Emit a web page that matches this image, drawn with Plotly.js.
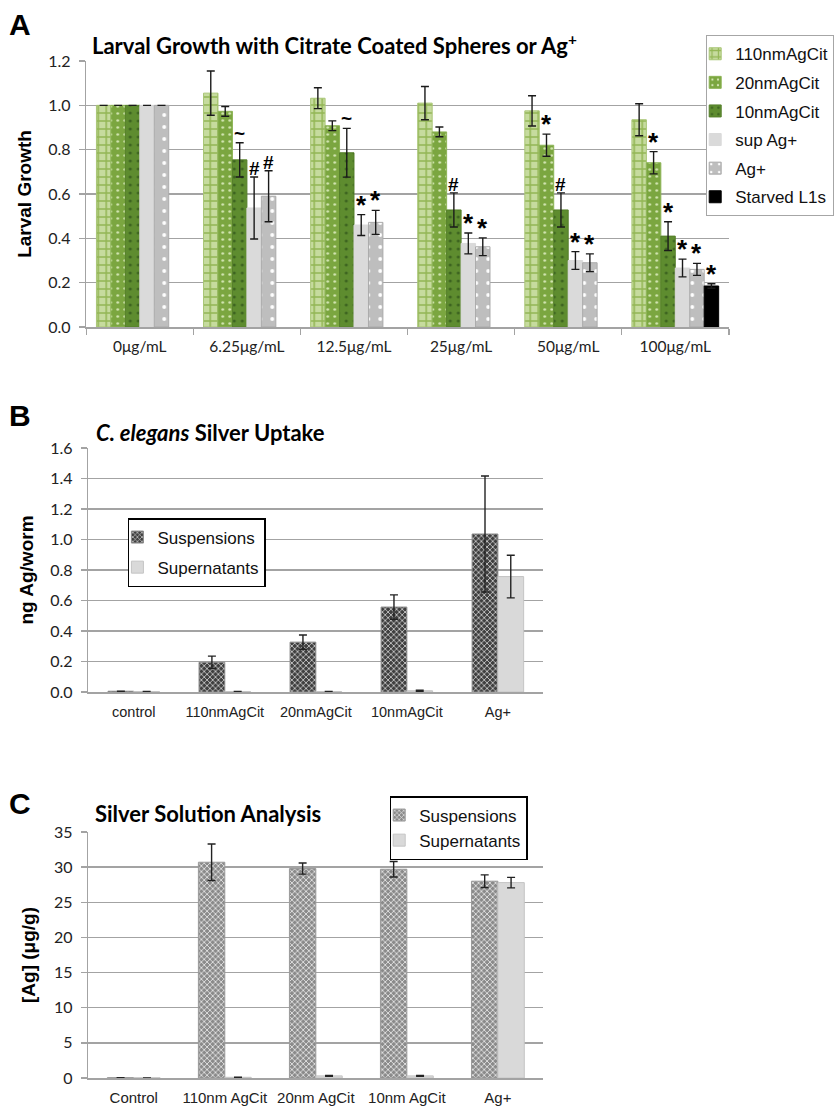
<!DOCTYPE html>
<html>
<head>
<meta charset="utf-8">
<script src="https://cdn.plot.ly/plotly-3.0.1.min.js"></script>
<style>
html,body{margin:0;padding:0;background:#fff;}
#chart{width:834px;height:1106px;}
</style>
</head>
<body>
<div id="chart"></div>
<script>
// ---------- Panel A data ----------
const catsA = ['0μg/mL','6.25μg/mL','12.5μg/mL','25μg/mL','50μg/mL','100μg/mL'];
const seriesA = ['110nmAgCit','20nmAgCit','10nmAgCit','sup Ag+','Ag+','Starved L1s'];
const nm110    = [1.0, 1.055, 1.032, 1.01, 0.975, 0.935];
const nm110Err = [0, 0.10, 0.047, 0.075, 0.068, 0.072];
const nm20     = [1.0, 0.973, 0.908, 0.88, 0.82, 0.741];
const nm20Err  = [0, 0.022, 0.022, 0.022, 0.05, 0.05];
const nm10     = [1.0, 0.754, 0.786, 0.528, 0.528, 0.41];
const nm10Err  = [0, 0.077, 0.11, 0.077, 0.077, 0.065];
const supAg    = [1.0, 0.537, 0.46, 0.377, 0.30, 0.266];
const supAgErr = [0, 0.14, 0.047, 0.047, 0.04, 0.04];
const agIon    = [1.0, 0.59, 0.472, 0.362, 0.29, 0.26];
const agIonErr = [0, 0.115, 0.054, 0.04, 0.04, 0.027];
const starved    = [null, null, null, null, null, 0.185];
const starvedErr = [0, 0, 0, 0, 0, 0.01];
// significance marks per series
const sig110     = ['', '', '', '', '', ''];
const sig20      = ['', '', '', '', '*', '*'];
const sig10      = ['', '~', '~', '#', '#', '*'];
const sigSup     = ['', '#', '*', '*', '*', '*'];
const sigAg      = ['', '#', '*', '*', '*', '*'];
const sigStarved = ['', '', '', '', '', '*'];

// ---------- Panel B data ----------
const catsB = ['control','110nmAgCit','20nmAgCit','10nmAgCit','Ag+'];
const suspB    = [0.005, 0.195, 0.327, 0.557, 1.036];
const suspBErr = [0, 0.04, 0.047, 0.08, 0.38];
const supB     = [0.003, 0.003, 0.003, 0.008, 0.757];
const supBErr  = [0, 0, 0, 0.003, 0.14];

// ---------- Panel C data ----------
const catsC = ['Control','110nm AgCit','20nm AgCit','10nm AgCit','Ag+'];
const suspC    = [0.05, 30.7, 29.8, 29.7, 28.0];
const suspCErr = [0, 2.6, 0.8, 1.1, 0.9];
const supC     = [0.02, 0.1, 0.3, 0.3, 27.8];
const supCErr  = [0, 0, 0.05, 0.05, 0.75];

// ---------- styling ----------
const W = 834, H = 1106;
const px = v => v / W;
const py = v => 1 - v / H;
const GRID = '#A3A3A3';
const calib = 'Lato, "Open Sans", sans-serif';
const arial = 'Arial, "Liberation Sans", sans-serif';

const wA = 0.135;
const stylesA = [
  {pattern:{shape:'+', bgcolor:'#C6DB9E', fgcolor:'#93B655', size:8, solidity:0.35, fillmode:'replace'}, line:'#A9C676'},
  {pattern:{shape:'.', bgcolor:'#7BA640', fgcolor:'#D4E6B4', size:7, solidity:0.12, fillmode:'replace'}, line:'#8DB456'},
  {pattern:{shape:'.', bgcolor:'#5E8C2F', fgcolor:'#3D6420', size:8, solidity:0.12, fillmode:'replace'}, line:'#557F2A'},
  {color:'#DADADA', line:'#DADADA'},
  {pattern:{shape:'.', bgcolor:'#BEBEBE', fgcolor:'#FFFFFF', size:12, solidity:0.08, fillmode:'replace'}, line:'#ABABAB'},
  {color:'#000000', line:'#000000'}
];
const valsA = [nm110, nm20, nm10, supAg, agIon, starved];
const errsA = [nm110Err, nm20Err, nm10Err, supAgErr, agIonErr, starvedErr];
const sigsA = [sig110, sig20, sig10, sigSup, sigAg, sigStarved];

const traces = [];
seriesA.forEach((name, i) => {
  const st = stylesA[i];
  const marker = {line:{color:st.line, width:1}};
  if (st.pattern) { marker.color = st.pattern.bgcolor; marker.pattern = st.pattern; }
  else marker.color = st.color;
  traces.push({
    type:'bar', name:name, x:catsA, y:valsA[i], xaxis:'x', yaxis:'y',
    offset:-3*wA + i*wA, width:wA, marker:marker,
    error_y:{type:'data', array:errsA[i], visible:true, color:'#1a1a1a', thickness:1.4, width:4},
    legend:'legend', legendgroup:'a'+i, hoverinfo:'skip'
  });
});

const wB = 0.283;
const suspStyleB = {color:'#4a4a4a', pattern:{shape:'x', bgcolor:'#3f3f3f', fgcolor:'#dcdcdc', size:4, solidity:0.35, fillmode:'replace'}, line:{color:'#8a8a8a', width:1}};
const supStyle = {color:'#D9D9D9', line:{color:'#C4C4C4', width:1}};
traces.push({type:'bar', name:'Suspensions', x:catsB, y:suspB, xaxis:'x2', yaxis:'y2', offset:-wB, width:wB,
  marker:suspStyleB, error_y:{type:'data', array:suspBErr, visible:true, color:'#222', thickness:1.4, width:4},
  legend:'legend2', legendgroup:'b0', hoverinfo:'skip'});
traces.push({type:'bar', name:'Supernatants', x:catsB, y:supB, xaxis:'x2', yaxis:'y2', offset:0, width:wB,
  marker:supStyle, error_y:{type:'data', array:supBErr, visible:true, color:'#222', thickness:1.4, width:4},
  legend:'legend2', legendgroup:'b1', hoverinfo:'skip'});

const wC = 0.29;
const suspStyleC = {color:'#9a9a9a', pattern:{shape:'x', bgcolor:'#8a8a8a', fgcolor:'#f0f0f0', size:4, solidity:0.35, fillmode:'replace'}, line:{color:'#9a9a9a', width:1}};
traces.push({type:'bar', name:'Suspensions', x:catsC, y:suspC, xaxis:'x3', yaxis:'y3', offset:-wC, width:wC,
  marker:suspStyleC, error_y:{type:'data', array:suspCErr, visible:true, color:'#222', thickness:1.4, width:4},
  legend:'legend3', legendgroup:'c0', hoverinfo:'skip'});
traces.push({type:'bar', name:'Supernatants', x:catsC, y:supC, xaxis:'x3', yaxis:'y3', offset:0, width:wC,
  marker:supStyle, error_y:{type:'data', array:supCErr, visible:true, color:'#222', thickness:1.4, width:4},
  legend:'legend3', legendgroup:'c1', hoverinfo:'skip'});

// ---------- annotations ----------
const annotations = [];
const lab = (t, x, y) => annotations.push({text:'<b>'+t+'</b>', x:px(x), y:py(y), xref:'paper', yref:'paper',
  xanchor:'left', yanchor:'middle', showarrow:false, font:{family:arial, size:30, color:'#000'}});
lab('A', 7, 25); lab('B', 7, 415); lab('C', 7, 803);
const ttl = (t, x, y) => annotations.push({text:'<b>'+t+'</b>', x:px(x), y:py(y), xref:'paper', yref:'paper',
  xanchor:'left', yanchor:'middle', showarrow:false, font:{family:calib, size:22, color:'#000'}});
ttl('Larval Growth with Citrate Coated Spheres or Ag<sup>+</sup>', 91, 44);
ttl('<i>C. elegans</i> Silver Uptake', 95, 432);
ttl('Silver Solution Analysis', 94, 813);

sigsA.forEach((arr, i) => {
  arr.forEach((m, g) => {
    if (!m) return;
    const top = valsA[i][g] + errsA[i][g];
    const isStar = m === '*';
    annotations.push({text:'<b>'+m+'</b>', x:g - 3*wA + i*wA + wA/2, y:top, xref:'x', yref:'y',
      xanchor:'center', yanchor:'bottom', showarrow:false, yshift: isStar ? -7 : (m === '~' ? -3 : -4),
      font:{family:arial, size: isStar ? 26 : 19, color:'#000'}});
  });
});

const axisLine = {showline:true, linecolor:GRID, linewidth:1.5, zeroline:false};
const yCommon = Object.assign({}, axisLine, {showgrid:true, gridcolor:GRID, gridwidth:1.5, ticks:'outside',
  ticklen:6, tickcolor:GRID, tickwidth:1.5, tickfont:{family:calib, size:16, color:'#222'}, ticklabelstandoff:5});

const layout = {
  width:W, height:H, margin:{l:0, r:0, t:0, b:0}, paper_bgcolor:'#fff', plot_bgcolor:'#fff',
  barmode:'overlay', showlegend:true, hovermode:false,
  xaxis: Object.assign({}, axisLine, {domain:[px(87), px(735)], anchor:'y', type:'category', range:[-0.5, 5.5],
    ticks:'outside', tickson:'boundaries', ticklen:6, tickcolor:GRID, tickwidth:1.5,
    tickfont:{family:calib, size:15.5, color:'#222'}, ticklabelstandoff:5, showgrid:false}),
  yaxis: Object.assign({}, yCommon, {domain:[py(327), py(61)], anchor:'x', range:[0, 1.2], dtick:0.2, tickformat:'.1f',
    title:{text:'Larval Growth', font:{family:arial, size:19, color:'#000', weight:'bold'}, standoff:11}}),
  xaxis2: Object.assign({}, axisLine, {domain:[px(89), px(548)], anchor:'y2', type:'category', range:[-0.5, 4.5],
    ticks:'', tickfont:{family:arial, size:14.5, color:'#222'}, ticklabelstandoff:6, showgrid:false}),
  yaxis2: Object.assign({}, yCommon, {domain:[py(692), py(448)], anchor:'x2', range:[0, 1.6], dtick:0.2, tickformat:'.1f',
    title:{text:'ng Ag/worm', font:{family:arial, size:19, color:'#000', weight:'bold'}, standoff:11}}),
  xaxis3: Object.assign({}, axisLine, {domain:[px(89), px(548)], anchor:'y3', type:'category', range:[-0.5, 4.5],
    ticks:'', tickfont:{family:arial, size:15, color:'#222'}, ticklabelstandoff:5, showgrid:false}),
  yaxis3: Object.assign({}, yCommon, {domain:[py(1078), py(832)], anchor:'x3', range:[0, 35], dtick:5,
    title:{text:'[Ag] (μg/g)', font:{family:arial, size:19, color:'#000', weight:'bold'}, standoff:13}}),
  legend: {x:px(712), y:py(35), xanchor:'left', yanchor:'top', bgcolor:'#fff', bordercolor:'#A6A6A6', borderwidth:1.2,
    font:{family:arial, size:17, color:'#111'}, traceorder:'grouped', tracegroupgap:3.5, indentation:-12},
  legend2: {x:px(129), y:py(518), xanchor:'left', yanchor:'top', bgcolor:'#fff', bordercolor:'#000', borderwidth:1.5,
    font:{family:arial, size:17, color:'#111'}, traceorder:'grouped', tracegroupgap:5, indentation:-12},
  legend3: {x:px(393), y:py(796), xanchor:'left', yanchor:'top', bgcolor:'#fff', bordercolor:'#000', borderwidth:1.5,
    font:{family:arial, size:17, color:'#111'}, traceorder:'grouped', tracegroupgap:0, indentation:-12},
  annotations: annotations
};

Plotly.newPlot('chart', traces, layout, {staticPlot:true, displayModeBar:false});
</script>
</body>
</html>
